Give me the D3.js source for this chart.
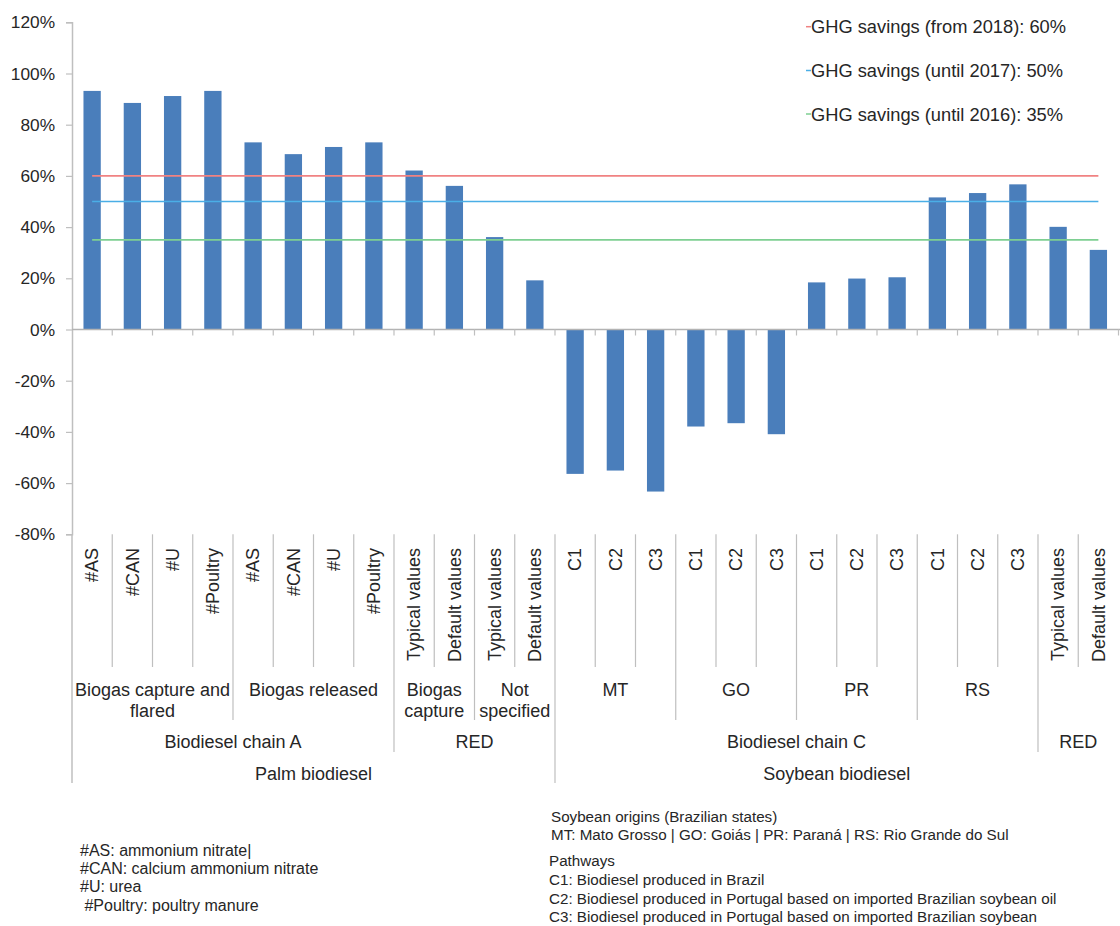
<!DOCTYPE html>
<html>
<head>
<meta charset="utf-8">
<script src="https://cdn.jsdelivr.net/npm/d3@7"></script>
<style>
  body { margin: 0; background: #fff; }
  svg { display: block; font-family: "Liberation Sans", Arial, sans-serif; }
</style>
</head>
<body>
<div id="wrapper"></div>
<script>
const categories = ['#AS', '#CAN', '#U', '#Poultry', '#AS', '#CAN', '#U', '#Poultry',
    'Typical values', 'Default values', 'Typical values', 'Default values',
    'C1', 'C2', 'C3', 'C1', 'C2', 'C3', 'C1', 'C2', 'C3', 'C1', 'C2', 'C3',
    'Typical values', 'Default values']
const savings = [93.2, 88.5, 91.2, 93.2, 73.1, 68.5, 71.3, 73.1, 62.1, 56.1, 36.1, 19.2,
    -56.4, -55.1, -63.3, -37.9, -36.6, -40.9, 18.4, 19.9, 20.4, 51.6, 53.3, 56.7, 40.1, 31.1]

// groups: [label lines, first index, count]
const subGroups = [
    [['Biogas capture and', 'flared'], 0, 4],
    [['Biogas released'], 4, 4],
    [['Biogas', 'capture'], 8, 2],
    [['Not', 'specified'], 10, 2],
    [['MT'], 12, 3],
    [['GO'], 15, 3],
    [['PR'], 18, 3],
    [['RS'], 21, 3],
    [[], 24, 2]
]
const chainGroups = [
    ['Biodiesel chain A', 0, 8],
    ['RED', 8, 4],
    ['Biodiesel chain C', 12, 12],
    ['RED', 24, 2]
]
const fuelGroups = [
    ['Palm biodiesel', 0, 12],
    ['Soybean biodiesel', 12, 14]
]

const yTicks = [-80, -60, -40, -20, 0, 20, 40, 60, 80, 100, 120]
const thresholdLabels = ['GHG savings (from 2018): 60%', 'GHG savings (until 2017): 50%', 'GHG savings (until 2016): 35%']
const thresholdValues = [60, 50, 35]
const thresholdColors = ['#f08282', '#4aaee6', '#7ecf92']

const notesLeft = ['#AS: ammonium nitrate|', '#CAN: calcium ammonium nitrate', '#U: urea', ' #Poultry: poultry manure']
const notesRight = ['Soybean origins (Brazilian states)', 'MT: Mato Grosso | GO: Goiás | PR: Paraná | RS: Rio Grande do Sul',
    'Pathways', 'C1: Biodiesel produced in Brazil',
    'C2: Biodiesel produced in Portugal based on imported Brazilian soybean oil',
    'C3: Biodiesel produced in Portugal based on imported Brazilian soybean']

const width = 1120
const height = 926
const axisColor = '#bfbfbf'
const textColor = '#262626'

const svg = d3.select('#wrapper').append('svg')
    .attr('width', width)
    .attr('height', height)

const xScale = d3.scaleBand()
    .domain(d3.range(categories.length))
    .range([72, 72 + 40.25 * categories.length])
    .padding(0)

const yScale = d3.scaleLinear()
    .domain([-80, 120])
    .range([534.3, 22.3])

const step = xScale.step()
const barW = step * 0.43
const cx = i => xScale(i) + step / 2

// y axis
const yAxis = d3.axisLeft(yScale)
    .tickValues(yTicks)
    .tickSize(6)
    .tickPadding(11)
    .tickFormat(d => d + '%')

const yG = svg.append('g')
    .attr('transform', 'translate(72,0)')
    .call(yAxis)
yG.select('.domain').attr('stroke', axisColor).attr('stroke-width', 1.5)
yG.selectAll('.tick line').attr('stroke', axisColor).attr('stroke-width', 1.2)
yG.selectAll('.tick text')
    .attr('fill', textColor)
    .style('font-size', '17.3px')
    .style('font-family', '"Liberation Sans", Arial, sans-serif')

// bars
svg.append('g').selectAll('rect')
    .data(savings)
    .join('rect')
    .attr('x', (d, i) => cx(i) - barW / 2)
    .attr('width', barW)
    .attr('y', d => yScale(Math.max(0, d)))
    .attr('height', d => Math.abs(yScale(d) - yScale(0)))
    .attr('fill', '#4a7ebb')

// zero line with boundary ticks
const y0 = yScale(0)
svg.append('line')
    .attr('x1', 72).attr('x2', width)
    .attr('y1', y0).attr('y2', y0)
    .attr('stroke', '#b3b3b3').attr('stroke-width', 1.5)
svg.append('g').selectAll('line')
    .data(d3.range(1, categories.length + 1))
    .join('line')
    .attr('x1', i => xScale(i) === undefined ? 72 + step * i : xScale(i))
    .attr('x2', i => xScale(i) === undefined ? 72 + step * i : xScale(i))
    .attr('y1', y0).attr('y2', y0 + 6)
    .attr('stroke', axisColor).attr('stroke-width', 1.2)

// threshold lines
thresholdValues.forEach((v, k) => {
    svg.append('line')
        .attr('x1', cx(0)).attr('x2', cx(categories.length - 1))
        .attr('y1', yScale(v)).attr('y2', yScale(v))
        .attr('stroke', thresholdColors[k])
        .attr('stroke-width', 1.6)
})

// legend
const legendY = [26.7, 70.5, 114]
thresholdLabels.forEach((t, k) => {
    svg.append('line')
        .attr('x1', 806).attr('x2', 811)
        .attr('y1', legendY[k]).attr('y2', legendY[k])
        .attr('stroke', thresholdColors[k]).attr('stroke-width', 1.5)
    svg.append('text')
        .attr('x', 811)
        .attr('y', legendY[k])
        .attr('dy', '0.36em')
        .attr('fill', textColor)
        .style('font-size', '18.3px')
        .text(t)
})

// category axis (multi level)
const axisTop = 534.3
const levelBottom = [667, 720, 752, 783]
const boundaryLevel = new Array(categories.length + 1).fill(0)
subGroups.forEach(g => { boundaryLevel[g[1]] = Math.max(boundaryLevel[g[1]], 1) })
chainGroups.forEach(g => { boundaryLevel[g[1]] = Math.max(boundaryLevel[g[1]], 2) })
fuelGroups.forEach(g => { boundaryLevel[g[1]] = Math.max(boundaryLevel[g[1]], 3) })

svg.append('g').selectAll('line')
    .data(d3.range(categories.length))
    .join('line')
    .attr('x1', i => xScale(i)).attr('x2', i => xScale(i))
    .attr('y1', i => i === 0 ? yScale(-80) : axisTop)
    .attr('y2', i => levelBottom[boundaryLevel[i]])
    .attr('stroke', axisColor)
    .attr('stroke-width', i => i === 0 ? 1.5 : 1.2)

svg.append('g').selectAll('text')
    .data(categories)
    .join('text')
    .attr('transform', (d, i) => `translate(${cx(i)},548) rotate(-90)`)
    .attr('text-anchor', 'end')
    .attr('dy', '0.35em')
    .attr('fill', textColor)
    .style('font-size', '18px')
    .text(d => d)

const groupCenter = g => xScale(g[1]) + step * g[2] / 2

subGroups.forEach(g => {
    g[0].forEach((line, j) => {
        svg.append('text')
            .attr('x', groupCenter(g))
            .attr('y', 690 + j * 20.5)
            .attr('dy', '0.35em')
            .attr('text-anchor', 'middle')
            .attr('fill', textColor)
            .style('font-size', '18px')
            .text(line)
    })
})

chainGroups.forEach(g => {
    svg.append('text')
        .attr('x', groupCenter(g))
        .attr('y', 742)
        .attr('dy', '0.35em')
        .attr('text-anchor', 'middle')
        .attr('fill', textColor)
        .style('font-size', '18px')
        .text(g[0])
})

fuelGroups.forEach(g => {
    svg.append('text')
        .attr('x', groupCenter(g))
        .attr('y', 774)
        .attr('dy', '0.35em')
        .attr('text-anchor', 'middle')
        .attr('fill', textColor)
        .style('font-size', '18px')
        .text(g[0])
})

// notes
const leftY = [850, 868, 886.5, 905]
notesLeft.forEach((t, k) => {
    svg.append('text')
        .attr('x', 80)
        .attr('y', leftY[k])
        .attr('dy', '0.35em')
        .attr('fill', textColor)
        .attr('xml:space', 'preserve')
        .style('white-space', 'pre')
        .style('font-size', '16px')
        .text(t)
})

const rightY = [817, 835, 861, 880, 898.5, 917]
const rightX = [551, 551, 549, 549, 549, 549]
notesRight.forEach((t, k) => {
    svg.append('text')
        .attr('x', rightX[k])
        .attr('y', rightY[k])
        .attr('dy', '0.35em')
        .attr('fill', textColor)
        .style('font-size', '15.2px')
        .text(t)
})
</script>
</body>
</html>
